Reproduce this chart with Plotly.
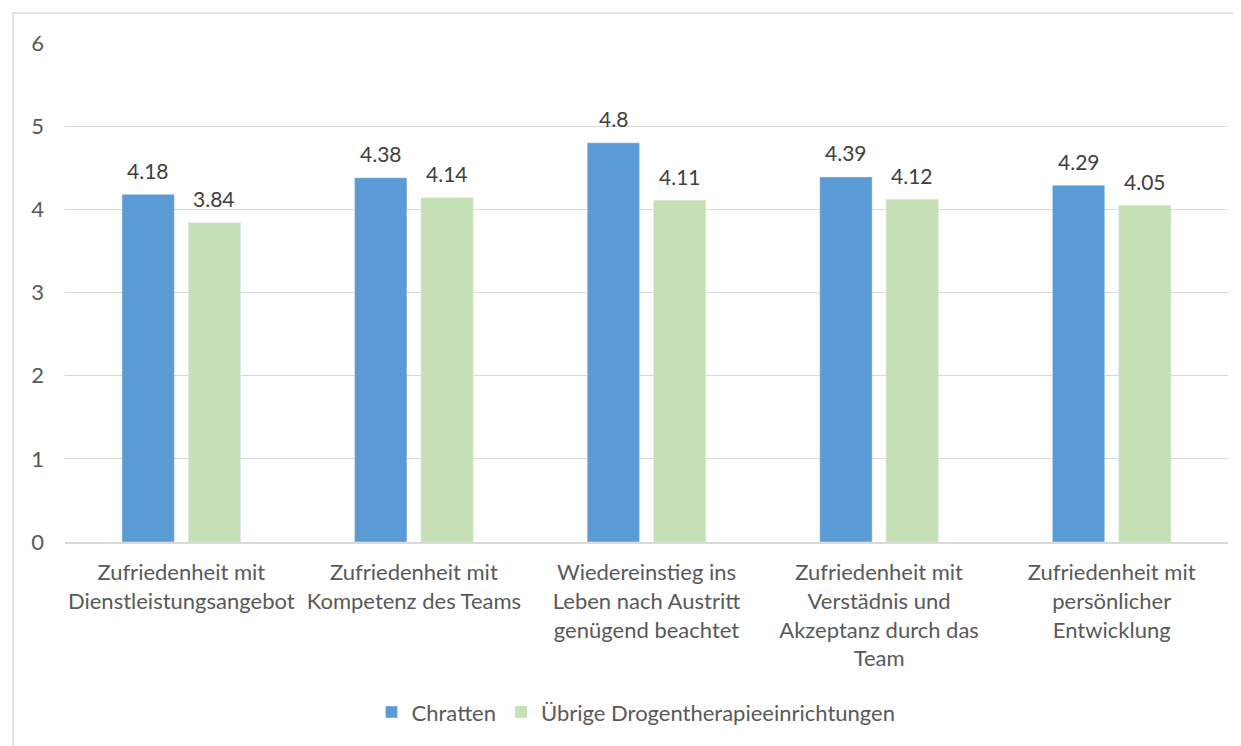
import plotly.graph_objects as go

categories = [
    "Zufriedenheit mit<br>Dienstleistungsangebot",
    "Zufriedenheit mit<br>Kompetenz des Teams",
    "Wiedereinstieg ins<br>Leben nach Austritt<br>genügend beachtet",
    "Zufriedenheit mit<br>Verstädnis und<br>Akzeptanz durch das<br>Team",
    "Zufriedenheit mit<br>persönlicher<br>Entwicklung",
]
chratten = [4.18, 4.38, 4.8, 4.39, 4.29]
uebrige = [3.84, 4.14, 4.11, 4.12, 4.05]
y_ticks = [0, 1, 2, 3, 4, 5, 6]

FONT = "Lato"
fig = go.Figure()
fig.add_trace(go.Bar(
    x=categories, y=chratten, name="Chratten",
    marker=dict(color="#5B9BD5"),
))
fig.add_trace(go.Bar(
    x=categories, y=uebrige, name="Übrige Drogentherapieeinrichtungen",
    marker=dict(color="#C5E0B4"),
))

annotations = []
for series, shift in ((chratten, -33), (uebrige, 33)):
    for cat, v in zip(categories, series):
        annotations.append(dict(
            x=cat, y=v, xref="x", yref="y", text=str(v), showarrow=False,
            xshift=shift, yshift=24, yanchor="middle", xanchor="center",
            font=dict(family=FONT, size=21, color="#404040"),
        ))

fig.update_layout(
    width=1241, height=746,
    margin=dict(l=57, r=21, t=35, b=212),
    paper_bgcolor="white", plot_bgcolor="white",
    barmode="group", bargap=0.43, bargroupgap=0.21,
    font=dict(family=FONT, color="#595959", size=22),
    showlegend=True,
    legend=dict(orientation="h", x=0.491, xanchor="center", y=-0.341, yanchor="middle",
                font=dict(size=22, color="#595959", family=FONT),
                itemwidth=30, traceorder="normal"),
    xaxis=dict(showline=True, linecolor="#D9D9D9", linewidth=2, ticks="",
               ticklabelstandoff=10,
               tickfont=dict(size=22, color="#595959")),
    yaxis=dict(range=[0, 6], tickvals=y_ticks, showgrid=True, gridcolor="#D9D9D9",
               gridwidth=1, zeroline=False, showline=False, ticks="",
               ticklabelstandoff=20,
               tickfont=dict(size=22, color="#595959")),
    annotations=annotations,
    shapes=[dict(type="rect", xref="paper", yref="paper",
                 x0=-0.0447, x1=1.05, y0=-0.6, y1=1.0601,
                 line=dict(color="#D9D9D9", width=1.5), fillcolor="rgba(0,0,0,0)",
                 layer="below")],
)
fig.write_html("out.html")
